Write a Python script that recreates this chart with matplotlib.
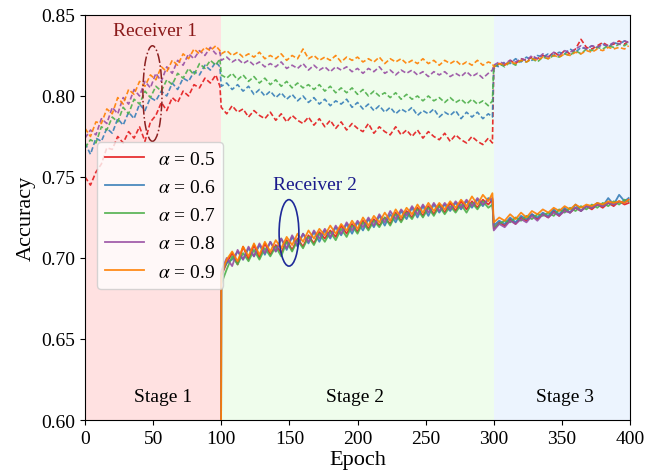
import numpy as np
import matplotlib
matplotlib.use("Agg")
import matplotlib.pyplot as plt
from matplotlib.patches import Ellipse

plt.rcParams['font.family'] = ['Liberation Serif', 'DejaVu Serif']
plt.rcParams['mathtext.fontset'] = 'stix'

# ---- data (accuracy in thousandths) ----
alphas = [0.5, 0.6, 0.7, 0.8, 0.9]
colors = ['#e41a1c', '#377eb8', '#4daf4a', '#984ea3', '#ff7f00']
stage_names = ['Stage 1', 'Stage 2', 'Stage 3']
stage_bounds = [0, 100, 300, 400]

# epochs of receiver 1 (stage 1, stage 2, stage 3)
epochs_r1 = (list(range(0, 100, 4)) + [99] + list(range(100, 300, 4)) + [299]
             + list(range(300, 400, 4)) + [399])
# receiver 2 joins at epoch 100 (accuracy 0 before)
epochs_r2 = [99] + list(range(100, 300, 4)) + [299] + list(range(300, 400, 4)) + [399]

r1_05 = [750, 745, 753, 758, 768, 767, 775, 771, 778, 774, 781, 772, 784, 788, 796, 791, 799, 796, 803, 800, 807, 805, 811, 808, 813, 806,
         793, 789, 794, 790, 792, 787, 791, 788, 786, 790,
         785, 789, 784, 788, 785, 783, 787, 782, 786, 781,
         785, 780, 784, 779, 783, 780, 778, 783, 777, 781,
         778, 776, 781, 776, 779, 775, 779, 774, 778, 775,
         773, 777, 772, 776, 773, 771, 775, 772, 770, 774, 771,
         817, 820, 819, 822, 820, 823, 822, 824, 823, 825,
         824, 827, 825, 828, 826, 829, 835, 830, 829, 831,
         833, 831, 832, 834, 832, 834]
r1_06 = [771, 764, 774, 772, 780, 777, 786, 782, 790, 786, 795, 791, 799, 797, 803, 800, 808, 804, 811, 809, 815, 813, 819, 816, 821, 818,
         806, 808, 804, 807, 803, 806, 801, 804, 800, 803,
         799, 802, 798, 801, 797, 800, 796, 799, 795, 798,
         794, 797, 795, 798, 793, 796, 792, 795, 791, 794,
         790, 793, 789, 792, 790, 793, 788, 791, 789, 792,
         787, 790, 788, 791, 786, 790, 787, 790, 786, 789, 787,
         819, 818, 821, 820, 823, 821, 824, 822, 825, 824,
         826, 825, 827, 826, 829, 827, 830, 829, 831, 830,
         832, 830, 833, 832, 834, 833]
r1_07 = [768, 773, 771, 781, 779, 787, 784, 793, 789, 798, 795, 803, 799, 806, 803, 810, 807, 814, 811, 817, 813, 820, 817, 822, 819, 823,
         813, 811, 814, 810, 813, 809, 812, 808, 811, 807,
         810, 806, 809, 805, 808, 805, 807, 804, 807, 803,
         806, 802, 805, 802, 805, 801, 804, 800, 803, 800,
         802, 799, 802, 798, 801, 798, 800, 797, 800, 797,
         799, 796, 799, 796, 798, 795, 798, 795, 797, 794, 797,
         818, 820, 818, 821, 819, 822, 821, 823, 821, 824,
         823, 825, 824, 826, 825, 828, 826, 829, 828, 830,
         829, 831, 830, 832, 831, 833]
r1_08 = [774, 779, 776, 786, 783, 793, 789, 799, 795, 804, 800, 809, 805, 814, 809, 818, 814, 822, 819, 826, 823, 828, 825, 830, 826, 827,
         822, 824, 821, 823, 820, 822, 819, 821, 818, 820,
         818, 821, 817, 819, 817, 820, 816, 819, 816, 818,
         815, 818, 816, 818, 815, 817, 814, 817, 815, 818,
         814, 816, 813, 816, 814, 816, 813, 815, 812, 815,
         813, 815, 812, 814, 812, 815, 812, 814, 811, 814, 816,
         819, 821, 820, 822, 821, 823, 822, 825, 823, 826,
         824, 827, 825, 828, 827, 829, 831, 829, 831, 830,
         832, 831, 833, 832, 834, 833]
r1_09 = [780, 775, 784, 783, 792, 789, 799, 795, 804, 801, 809, 806, 813, 810, 818, 815, 822, 819, 826, 823, 829, 826, 830, 828, 831, 828,
         826, 828, 825, 827, 824, 826, 824, 827, 823, 825,
         823, 826, 822, 825, 823, 829, 823, 825, 822, 824,
         822, 825, 821, 824, 822, 824, 821, 823, 821, 824,
         820, 823, 821, 823, 820, 822, 820, 823, 820, 822,
         819, 822, 820, 822, 819, 821, 819, 822, 819, 821, 820,
         818, 820, 819, 821, 820, 822, 821, 823, 822, 824,
         823, 825, 824, 826, 825, 827, 826, 828, 827, 829,
         828, 830, 829, 830, 829, 831]

r2_05 = [0,
         689, 697, 703, 696, 707, 699, 708, 700, 709, 702,
         708, 703, 711, 705, 712, 707, 714, 709, 716, 712,
         717, 713, 720, 715, 721, 716, 723, 718, 724, 720,
         725, 721, 728, 723, 729, 725, 731, 726, 732, 727,
         733, 728, 734, 729, 735, 730, 735, 731, 736, 733, 736,
         718, 722, 720, 724, 721, 725, 723, 727, 724, 727,
         725, 729, 726, 730, 728, 731, 729, 732, 730, 733,
         731, 734, 732, 735, 733, 734]
r2_06 = [0,
         691, 697, 699, 704, 699, 706, 701, 708, 702, 710,
         704, 712, 705, 713, 707, 715, 709, 716, 710, 717,
         712, 719, 714, 721, 715, 722, 717, 724, 719, 726,
         720, 727, 722, 729, 724, 731, 725, 732, 726, 733,
         728, 733, 729, 734, 730, 735, 731, 736, 732, 737, 735,
         720, 723, 721, 725, 722, 726, 724, 727, 725, 728,
         726, 730, 727, 731, 728, 733, 729, 732, 731, 734,
         732, 737, 733, 739, 735, 737]
r2_07 = [0,
         684, 693, 701, 696, 703, 698, 705, 699, 706, 701,
         707, 701, 710, 704, 711, 706, 713, 708, 715, 710,
         716, 711, 718, 713, 720, 715, 722, 717, 723, 719,
         725, 720, 727, 722, 728, 724, 730, 725, 731, 726,
         732, 727, 732, 728, 733, 728, 734, 730, 735, 731, 733,
         719, 721, 723, 722, 725, 723, 726, 724, 727, 726,
         728, 726, 730, 728, 731, 729, 732, 730, 733, 731,
         734, 732, 735, 733, 736, 735]
r2_08 = [0,
         692, 700, 695, 705, 699, 707, 701, 709, 703, 710,
         704, 712, 706, 714, 708, 715, 710, 717, 712, 718,
         713, 720, 715, 722, 717, 723, 719, 725, 720, 727,
         722, 729, 724, 730, 726, 732, 727, 733, 728, 734,
         729, 734, 730, 735, 731, 736, 732, 737, 733, 736, 737,
         717, 721, 719, 723, 721, 724, 722, 726, 723, 727,
         725, 728, 726, 729, 728, 731, 729, 732, 731, 733,
         732, 734, 733, 735, 734, 736]
r2_09 = [0,
         690, 699, 704, 698, 707, 701, 709, 702, 710, 704,
         711, 706, 713, 708, 715, 710, 717, 712, 718, 714,
         720, 715, 721, 717, 723, 718, 725, 720, 726, 722,
         728, 723, 730, 725, 731, 727, 733, 728, 734, 729,
         734, 730, 735, 731, 736, 732, 738, 733, 739, 735, 740,
         722, 725, 723, 727, 724, 728, 725, 729, 727, 730,
         728, 731, 729, 732, 730, 733, 731, 733, 732, 734,
         733, 735, 734, 735, 734, 736]

r1_series = [r1_05, r1_06, r1_07, r1_08, r1_09]
r2_series = [r2_05, r2_06, r2_07, r2_08, r2_09]

# ---- figure ----
fig = plt.figure(figsize=(6.56, 4.77), dpi=100)
ax = fig.add_axes([0.1296, 0.1174, 0.8308, 0.8491])

bg_colors = ['#ffe1e1', '#effdec', '#ecf4fe']
for i in range(3):
    ax.axvspan(stage_bounds[i], stage_bounds[i + 1], color=bg_colors[i], zorder=0, lw=0)

for a, c, s in zip(alphas, colors, r1_series):
    ax.plot(epochs_r1, np.array(s) / 1000, color=c, lw=1.2, ls=(0, (3, 1.5)), alpha=0.9, zorder=2)

for a, c, s in zip(alphas, colors, r2_series):
    ax.plot(epochs_r2, np.array(s) / 1000, color=c, lw=1.3, alpha=0.9, zorder=3,
            label=r'$\alpha$ = %.1f' % a)

stage_text_x = [57, 198, 352]
for x, name in zip(stage_text_x, stage_names):
    ax.text(x, 0.6145, name, ha='center', va='center', fontsize=14)

ax.add_patch(Ellipse((49.5, 0.8015), 14, 0.059, fill=False, ec='#8b2020', lw=1.1, ls='-.', zorder=4))
ax.text(51.5, 0.8405, 'Receiver 1', ha='center', va='center', fontsize=14, color='#8b1a1a')
ax.add_patch(Ellipse((149.7, 0.7155), 14.5, 0.041, fill=False, ec='#1f2a99', lw=1.2, zorder=4))
ax.text(169, 0.7455, 'Receiver 2', ha='center', va='center', fontsize=14, color='#1a1a8b')

ax.set_xlim(0, 400)
ax.set_ylim(0.60, 0.85)
ax.set_xticks(np.arange(0, 401, 50))
ax.set_yticks([0.60, 0.65, 0.70, 0.75, 0.80, 0.85])
ax.set_yticklabels(['0.60', '0.65', '0.70', '0.75', '0.80', '0.85'])
ax.tick_params(labelsize=14)
ax.set_xlabel('Epoch', fontsize=16, labelpad=2)
ax.set_ylabel('Accuracy', fontsize=16, labelpad=4)

ax.legend(loc='upper left', bbox_to_anchor=(0.005, 0.71), fontsize=14, handlelength=2.0,
          labelspacing=0.55, borderpad=0.4, handletextpad=0.7, framealpha=0.8)

fig.savefig('out.png', dpi=100)
